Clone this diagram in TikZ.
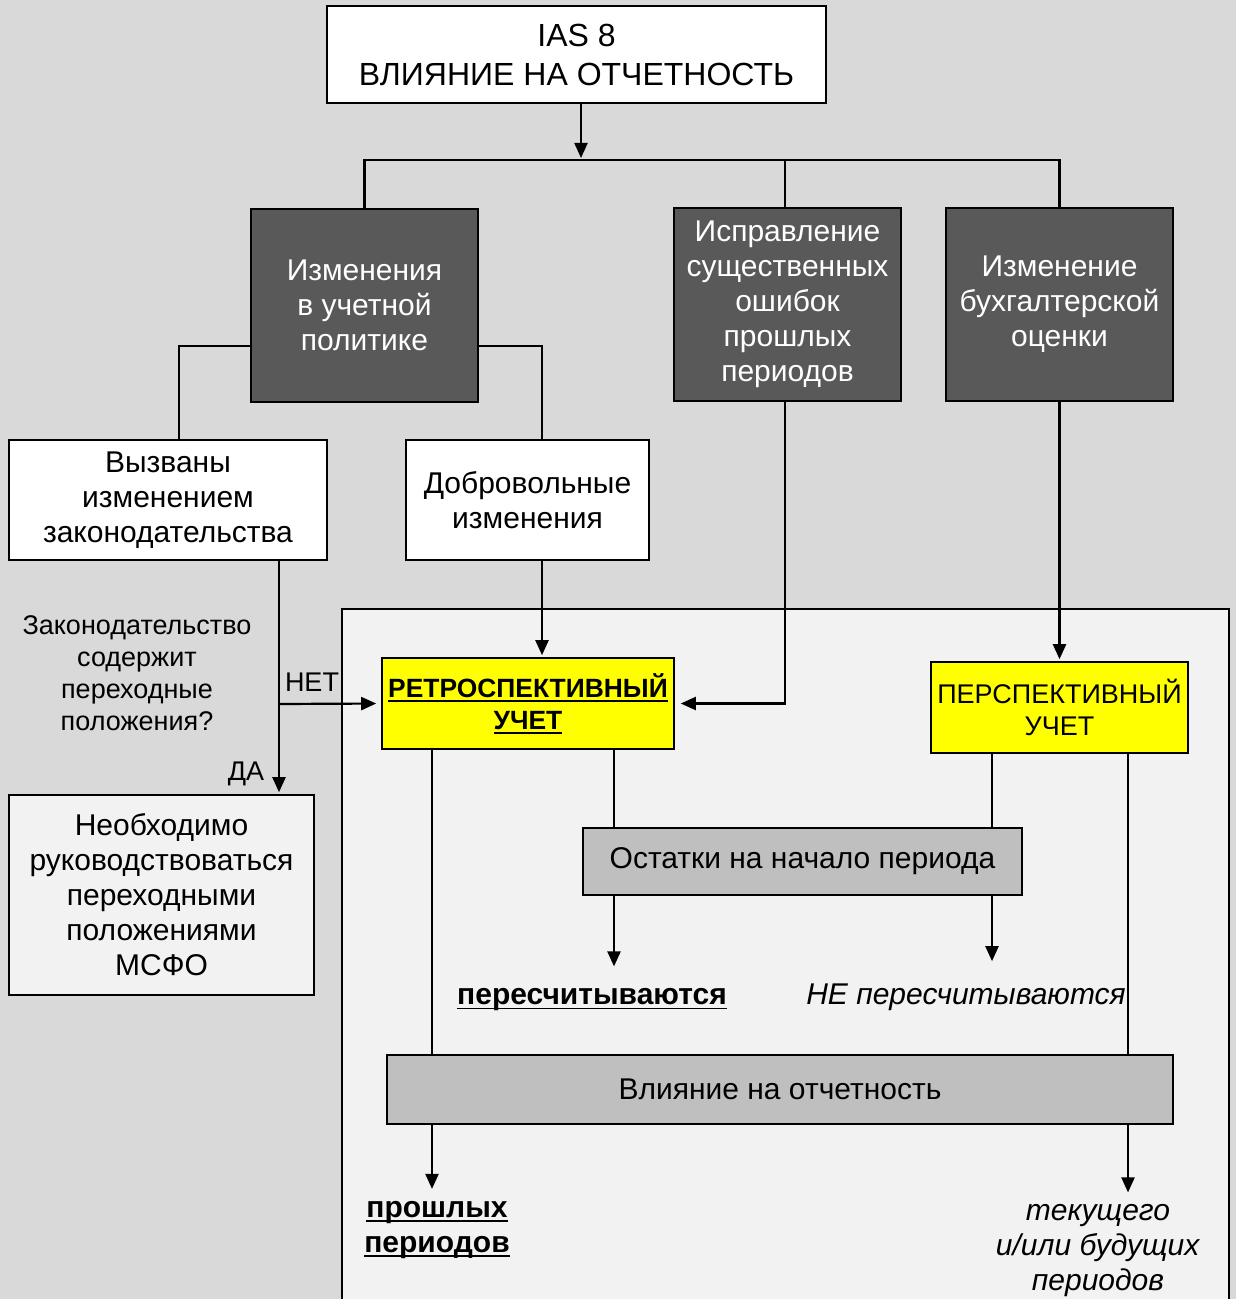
\documentclass[tikz,border=0pt]{standalone}
\usepackage{fontspec}
\setmainfont{Liberation Sans}
\usetikzlibrary{arrows.meta}
\definecolor{bggray}{HTML}{D9D9D9}
\definecolor{panelgray}{HTML}{F2F2F2}
\definecolor{darkfill}{HTML}{595959}
\definecolor{midgray}{HTML}{BFBFBF}
\definecolor{marker}{HTML}{FFFF00}
\newcommand{\bigtext}{\fontsize{15}{17.5}\selectfont}
\newcommand{\smalltext}{\fontsize{13.5}{16}\selectfont}
\newcommand{\titletext}{\fontsize{16}{19.5}\selectfont}
% underline close to the baseline
\newcommand{\undl}[1]{\setbox0\hbox{#1}\rlap{\rule[-2.2pt]{\wd0}{0.9pt}}\box0}

\begin{document}
\begin{tikzpicture}[x=0.5pt, y=-0.5pt,
		box/.style={draw, line width=0.8pt, align=center, inner sep=0pt, font=\bigtext},
		whitebox/.style={box, fill=white},
		darkbox/.style={box, fill=darkfill, text=white, minimum width=113.5pt, minimum height=96.5pt},
		graybox/.style={box, fill=midgray},
		yellowbox/.style={box, fill=marker, font=\smalltext, minimum height=45.5pt},
		label/.style={align=center, inner sep=1pt, font=\bigtext},
		link/.style={line width=1.1pt},
		arrowlink/.style={link, ->, shorten >=1pt},
		>={Triangle[length=7.5pt, width=6.5pt]}]

	\useasboundingbox (0,0) rectangle (1236,1299);
	\fill[bggray] (0,0) rectangle (1236,1299);
	\fill[panelgray] (342,609) rectangle (1229,1299);
	\draw[line width=0.8pt] (342,1299) |- (1229,609) -- (1229,1299);

	% columns and junctions
	\path (581,160) coordinate (bus);
	\path (279,704) coordinate (fork);
	\path (542,0) coordinate (volx);
	\path (785,0) coordinate (errx);
	\path (432,0) coordinate (pastx);
	\path (614,0) coordinate (recx);
	\path (992,0) coordinate (norecx);
	\path (1128,0) coordinate (futx);

	\node[whitebox, font=\titletext, minimum width=249.5pt, minimum height=48.5pt] (ias) at (576.5,54.5) {IAS 8\\ВЛИЯНИЕ НА ОТЧЕТНОСТЬ};

	\node[darkbox] (policy) at (364.5,305.5) {Изменения\\в учетной\\политике};
	\node[darkbox] (errors) at (787.5,304.5) {Исправление\\существенных\\ошибок\\прошлых\\периодов};
	\node[darkbox] (estimate) at (1059.5,304.5) {Изменение\\бухгалтерской\\оценки};

	\node[whitebox, minimum width=159pt, minimum height=60pt] (legal) at (168,500) {Вызваны\\изменением\\законодательства};
	\node[whitebox, minimum width=121.5pt, minimum height=60pt] (voluntary) at (527.5,500) {Добровольные\\изменения};
	\node[box, fill=panelgray, minimum width=152.5pt, minimum height=100pt] (ifrs) at (161.5,895) {Необходимо\\руководствоваться\\переходными\\положениями\\МСФО};

	\node[label, font=\smalltext] (question) at (137,673) {Законодательство\\содержит\\переходные\\положения?};
	\node[label, font=\smalltext] (no) at (312,682) {НЕТ};
	\node[label, font=\smalltext] (yes) at (246,774) {ДА};

	\node[yellowbox, font=\fontsize{13.2}{16}\selectfont, minimum width=146pt] (retro) at (528,703.5) {\textbf{\undl{РЕТРОСПЕКТИВНЫЙ}}\\\textbf{\undl{УЧЕТ}}};
	\node[yellowbox, minimum width=128.5pt] (persp) at (1059.5,707.5) {ПЕРСПЕКТИВНЫЙ\\УЧЕТ};

	\node[graybox, minimum width=219.5pt, minimum height=33.5pt] (balance) at (802.5,861.5) {Остатки на начало периода};
	\node[label] (recalc) at (592,1000) {\textbf{\undl{пересчитываются}}};
	\node[label] (norecalc) at (966,997) {\textit{НЕ пересчитываются}};

	\node[graybox, minimum width=393pt, minimum height=34.5pt] (impact) at (780,1089.5) {Влияние на отчетность};
	\node[label] (past) at (437,1230) {\textbf{\undl{прошлых}}\\\textbf{\undl{периодов}}};
	\node[label] (future) at (1098,1251) {\textit{текущего}\\\textit{и/или будущих}\\\textit{периодов}};

	\draw[arrowlink] (ias.south -| bus) -- (bus);
	\draw[link] (policy.north) |- (bus) -| (estimate.north);
	\draw[link] (errors.north -| errx) -- (bus -| errx);

	\draw[link] ([yshift=-20.25pt]policy.west) -| ([xshift=5.5pt]legal.north);
	\draw[link] ([yshift=-20.25pt]policy.east) -| (voluntary.north -| volx);

	\draw[link] (legal.south -| fork) -- (fork);
	\draw[arrowlink] (fork) -- (ifrs.north -| fork);
	\draw[arrowlink, shorten >=2.5pt] (fork) -- (retro.west);
	\draw[arrowlink] (voluntary.south -| volx) -- (retro.north -| volx);
	\draw[arrowlink, shorten >=3pt] (errors.south -| errx) |- (retro.east);
	\draw[arrowlink] (estimate.south) -- (persp.north);

	\draw[link] (retro.south -| pastx) -- (impact.north -| pastx);
	\draw[link] (retro.south -| recx) -- (balance.north -| recx);
	\draw[link] (persp.south -| norecx) -- (balance.north -| norecx);
	\draw[link] (persp.south -| futx) -- (impact.north -| futx);

	\draw[arrowlink, shorten >=10pt] (balance.south -| recx) -- (recalc.north -| recx);
	\draw[arrowlink, shorten >=10pt] (balance.south -| norecx) -- (norecalc.north -| norecx);
	\draw[arrowlink, shorten >=5pt] (impact.south -| pastx) -- (past.north -| pastx);
	\draw[arrowlink, shorten >=5pt] (impact.south -| futx) -- (future.north -| futx);
\end{tikzpicture}
\end{document}
